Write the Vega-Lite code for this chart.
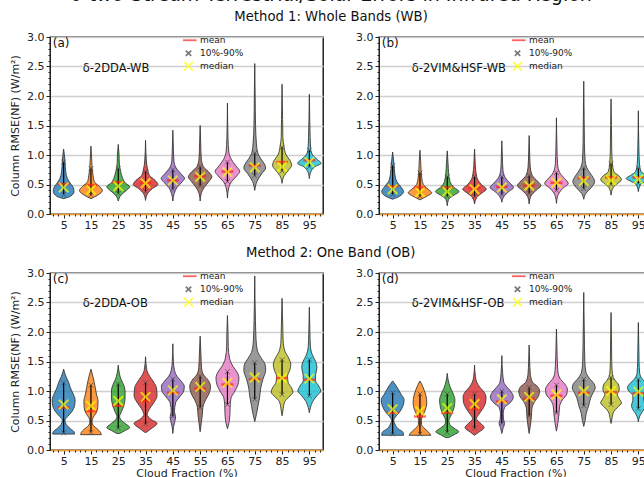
{
"$schema": "https://vega.github.io/schema/vega-lite/v6.json",
"padding": {"left": 8, "top": -14, "right": 0, "bottom": 0},
"title": {"text": "δ-two-Stream Terrestrial/Solar Errors in Infrared Region", "fontSize": 19, "fontWeight": "normal", "font": "DejaVu Sans", "anchor": "middle", "offset": 5, "color": "#111"},
"config": {
 "font": "DejaVu Sans",
 "view": {"stroke": "black", "strokeWidth": 1.3},
 "axis": {"labelFontSize": 11, "titleFontSize": 11, "labelColor": "#222", "titleColor": "#222", "titleFontWeight": "normal", "tickColor": "#222", "domainColor": "#222", "labelFont": "DejaVu Sans", "titleFont": "DejaVu Sans", "labelOverlap": false},
 "title": {"fontWeight": "normal", "font": "DejaVu Sans"},
 "legend": {"labelFont": "DejaVu Sans", "orient": "none", "legendX": 133, "legendY": -3, "title": null, "labelFontSize": 9, "labelColor": "#222", "symbolSize": 80, "symbolStrokeWidth": 1.8, "rowPadding": 0, "clipHeight": 12.5, "labelOffset": 6}
},
"datasets": {
"viol": [
{"p":"a","cf":5,"y":0.26,"w":0},{"p":"a","cf":5,"y":0.30,"w":2.5},{"p":"a","cf":5,"y":0.38,"w":3.8},{"p":"a","cf":5,"y":0.45,"w":3.5},{"p":"a","cf":5,"y":0.55,"w":2.0},{"p":"a","cf":5,"y":0.65,"w":1.0},{"p":"a","cf":5,"y":0.80,"w":0.6},{"p":"a","cf":5,"y":0.95,"w":0.4},{"p":"a","cf":5,"y":1.10,"w":0},
{"p":"a","cf":15,"y":0.26,"w":0},{"p":"a","cf":15,"y":0.32,"w":2.5},{"p":"a","cf":15,"y":0.40,"w":4.2},{"p":"a","cf":15,"y":0.47,"w":3.0},{"p":"a","cf":15,"y":0.55,"w":1.2},{"p":"a","cf":15,"y":0.65,"w":0.8},{"p":"a","cf":15,"y":0.75,"w":0.5},{"p":"a","cf":15,"y":0.90,"w":0.3},{"p":"a","cf":15,"y":1.15,"w":0},
{"p":"a","cf":25,"y":0.22,"w":0},{"p":"a","cf":25,"y":0.32,"w":1.0},{"p":"a","cf":25,"y":0.40,"w":3.0},{"p":"a","cf":25,"y":0.46,"w":4.2},{"p":"a","cf":25,"y":0.53,"w":2.5},{"p":"a","cf":25,"y":0.62,"w":1.5},{"p":"a","cf":25,"y":0.72,"w":0.9},{"p":"a","cf":25,"y":0.85,"w":0.4},{"p":"a","cf":25,"y":1.0,"w":0.3},{"p":"a","cf":25,"y":1.18,"w":0},
{"p":"a","cf":35,"y":0.23,"w":0},{"p":"a","cf":35,"y":0.35,"w":0.8},{"p":"a","cf":35,"y":0.43,"w":2.5},{"p":"a","cf":35,"y":0.50,"w":4.5},{"p":"a","cf":35,"y":0.57,"w":3.5},{"p":"a","cf":35,"y":0.65,"w":1.5},{"p":"a","cf":35,"y":0.75,"w":0.8},{"p":"a","cf":35,"y":0.90,"w":0.3},{"p":"a","cf":35,"y":1.25,"w":0},
{"p":"a","cf":45,"y":0.22,"w":0},{"p":"a","cf":45,"y":0.35,"w":0.5},{"p":"a","cf":45,"y":0.45,"w":1.5},{"p":"a","cf":45,"y":0.55,"w":3.5},{"p":"a","cf":45,"y":0.60,"w":4.3},{"p":"a","cf":45,"y":0.68,"w":3.0},{"p":"a","cf":45,"y":0.78,"w":1.2},{"p":"a","cf":45,"y":0.90,"w":0.4},{"p":"a","cf":45,"y":1.10,"w":0.2},{"p":"a","cf":45,"y":1.42,"w":0},
{"p":"a","cf":55,"y":0.22,"w":0},{"p":"a","cf":55,"y":0.35,"w":0.4},{"p":"a","cf":55,"y":0.45,"w":1.5},{"p":"a","cf":55,"y":0.55,"w":3.2},{"p":"a","cf":55,"y":0.63,"w":4.3},{"p":"a","cf":55,"y":0.72,"w":3.0},{"p":"a","cf":55,"y":0.80,"w":1.2},{"p":"a","cf":55,"y":0.95,"w":0.4},{"p":"a","cf":55,"y":1.20,"w":0.2},{"p":"a","cf":55,"y":1.50,"w":0},
{"p":"a","cf":65,"y":0.27,"w":0},{"p":"a","cf":65,"y":0.45,"w":0.5},{"p":"a","cf":65,"y":0.55,"w":1.5},{"p":"a","cf":65,"y":0.65,"w":3.5},{"p":"a","cf":65,"y":0.72,"w":4.5},{"p":"a","cf":65,"y":0.82,"w":3.0},{"p":"a","cf":65,"y":0.92,"w":1.5},{"p":"a","cf":65,"y":1.05,"w":0.5},{"p":"a","cf":65,"y":1.30,"w":0.2},{"p":"a","cf":65,"y":1.88,"w":0},
{"p":"a","cf":75,"y":0.40,"w":0},{"p":"a","cf":75,"y":0.55,"w":0.8},{"p":"a","cf":75,"y":0.68,"w":2.5},{"p":"a","cf":75,"y":0.78,"w":4.0},{"p":"a","cf":75,"y":0.85,"w":3.5},{"p":"a","cf":75,"y":0.95,"w":2.0},{"p":"a","cf":75,"y":1.05,"w":1.0},{"p":"a","cf":75,"y":1.20,"w":0.6},{"p":"a","cf":75,"y":1.50,"w":0.3},{"p":"a","cf":75,"y":2.0,"w":0.15},{"p":"a","cf":75,"y":2.55,"w":0},
{"p":"a","cf":85,"y":0.52,"w":0},{"p":"a","cf":85,"y":0.65,"w":0.8},{"p":"a","cf":85,"y":0.75,"w":2.5},{"p":"a","cf":85,"y":0.82,"w":3.5},{"p":"a","cf":85,"y":0.90,"w":3.0},{"p":"a","cf":85,"y":1.0,"w":1.5},{"p":"a","cf":85,"y":1.15,"w":0.7},{"p":"a","cf":85,"y":1.30,"w":0.3},{"p":"a","cf":85,"y":1.60,"w":0.2},{"p":"a","cf":85,"y":2.20,"w":0},
{"p":"a","cf":95,"y":0.60,"w":0},{"p":"a","cf":95,"y":0.72,"w":0.6},{"p":"a","cf":95,"y":0.80,"w":2.0},{"p":"a","cf":95,"y":0.86,"w":4.3},{"p":"a","cf":95,"y":0.92,"w":3.0},{"p":"a","cf":95,"y":1.0,"w":1.2},{"p":"a","cf":95,"y":1.10,"w":0.5},{"p":"a","cf":95,"y":1.30,"w":0.3},{"p":"a","cf":95,"y":1.60,"w":0.15},{"p":"a","cf":95,"y":2.03,"w":0},

{"p":"b","cf":5,"y":0.25,"w":0},{"p":"b","cf":5,"y":0.30,"w":2.5},{"p":"b","cf":5,"y":0.38,"w":4.0},{"p":"b","cf":5,"y":0.46,"w":3.0},{"p":"b","cf":5,"y":0.55,"w":1.5},{"p":"b","cf":5,"y":0.68,"w":0.8},{"p":"b","cf":5,"y":0.85,"w":0.5},{"p":"b","cf":5,"y":1.05,"w":0},
{"p":"b","cf":15,"y":0.24,"w":0},{"p":"b","cf":15,"y":0.30,"w":2.5},{"p":"b","cf":15,"y":0.36,"w":4.3},{"p":"b","cf":15,"y":0.42,"w":3.0},{"p":"b","cf":15,"y":0.50,"w":1.2},{"p":"b","cf":15,"y":0.60,"w":0.7},{"p":"b","cf":15,"y":0.75,"w":0.4},{"p":"b","cf":15,"y":0.90,"w":0.25},{"p":"b","cf":15,"y":1.08,"w":0},
{"p":"b","cf":25,"y":0.14,"w":0},{"p":"b","cf":25,"y":0.25,"w":0.5},{"p":"b","cf":25,"y":0.32,"w":2.5},{"p":"b","cf":25,"y":0.38,"w":4.3},{"p":"b","cf":25,"y":0.45,"w":2.5},{"p":"b","cf":25,"y":0.55,"w":1.0},{"p":"b","cf":25,"y":0.70,"w":0.5},{"p":"b","cf":25,"y":0.85,"w":0.3},{"p":"b","cf":25,"y":1.07,"w":0},
{"p":"b","cf":35,"y":0.17,"w":0},{"p":"b","cf":35,"y":0.28,"w":0.8},{"p":"b","cf":35,"y":0.36,"w":2.8},{"p":"b","cf":35,"y":0.42,"w":4.3},{"p":"b","cf":35,"y":0.50,"w":2.5},{"p":"b","cf":35,"y":0.60,"w":1.0},{"p":"b","cf":35,"y":0.75,"w":0.4},{"p":"b","cf":35,"y":0.90,"w":0.2},{"p":"b","cf":35,"y":1.10,"w":0},
{"p":"b","cf":45,"y":0.20,"w":0},{"p":"b","cf":45,"y":0.30,"w":0.8},{"p":"b","cf":45,"y":0.38,"w":2.5},{"p":"b","cf":45,"y":0.45,"w":4.3},{"p":"b","cf":45,"y":0.52,"w":3.0},{"p":"b","cf":45,"y":0.62,"w":1.2},{"p":"b","cf":45,"y":0.75,"w":0.4},{"p":"b","cf":45,"y":0.95,"w":0.2},{"p":"b","cf":45,"y":1.24,"w":0},
{"p":"b","cf":55,"y":0.17,"w":0},{"p":"b","cf":55,"y":0.30,"w":0.6},{"p":"b","cf":55,"y":0.40,"w":2.5},{"p":"b","cf":55,"y":0.48,"w":4.3},{"p":"b","cf":55,"y":0.56,"w":3.0},{"p":"b","cf":55,"y":0.65,"w":1.2},{"p":"b","cf":55,"y":0.80,"w":0.4},{"p":"b","cf":55,"y":1.0,"w":0.2},{"p":"b","cf":55,"y":1.33,"w":0},
{"p":"b","cf":65,"y":0.18,"w":0},{"p":"b","cf":65,"y":0.30,"w":0.4},{"p":"b","cf":65,"y":0.42,"w":2.0},{"p":"b","cf":65,"y":0.52,"w":4.3},{"p":"b","cf":65,"y":0.60,"w":3.0},{"p":"b","cf":65,"y":0.70,"w":1.2},{"p":"b","cf":65,"y":0.85,"w":0.4},{"p":"b","cf":65,"y":1.10,"w":0.2},{"p":"b","cf":65,"y":1.63,"w":0},
{"p":"b","cf":75,"y":0.25,"w":0},{"p":"b","cf":75,"y":0.35,"w":0.8},{"p":"b","cf":75,"y":0.45,"w":2.8},{"p":"b","cf":75,"y":0.55,"w":4.0},{"p":"b","cf":75,"y":0.65,"w":3.0},{"p":"b","cf":75,"y":0.75,"w":1.5},{"p":"b","cf":75,"y":0.90,"w":0.5},{"p":"b","cf":75,"y":1.20,"w":0.25},{"p":"b","cf":75,"y":1.60,"w":0.15},{"p":"b","cf":75,"y":2.25,"w":0},
{"p":"b","cf":85,"y":0.32,"w":0},{"p":"b","cf":85,"y":0.45,"w":0.8},{"p":"b","cf":85,"y":0.52,"w":2.5},{"p":"b","cf":85,"y":0.58,"w":3.8},{"p":"b","cf":85,"y":0.64,"w":3.0},{"p":"b","cf":85,"y":0.72,"w":1.0},{"p":"b","cf":85,"y":0.85,"w":0.5},{"p":"b","cf":85,"y":1.10,"w":0.25},{"p":"b","cf":85,"y":1.50,"w":0.15},{"p":"b","cf":85,"y":1.95,"w":0},
{"p":"b","cf":95,"y":0.38,"w":0},{"p":"b","cf":95,"y":0.50,"w":0.8},{"p":"b","cf":95,"y":0.56,"w":3.0},{"p":"b","cf":95,"y":0.60,"w":4.5},{"p":"b","cf":95,"y":0.65,"w":3.0},{"p":"b","cf":95,"y":0.72,"w":1.0},{"p":"b","cf":95,"y":0.85,"w":0.4},{"p":"b","cf":95,"y":1.10,"w":0.2},{"p":"b","cf":95,"y":1.75,"w":0},

{"p":"c","cf":5,"y":0.27,"w":4.0},{"p":"c","cf":5,"y":0.31,"w":3.8},{"p":"c","cf":5,"y":0.36,"w":2.5},{"p":"c","cf":5,"y":0.43,"w":1.0},{"p":"c","cf":5,"y":0.50,"w":0.5},{"p":"c","cf":5,"y":0.57,"w":1.5},{"p":"c","cf":5,"y":0.65,"w":3.0},{"p":"c","cf":5,"y":0.75,"w":4.0},{"p":"c","cf":5,"y":0.85,"w":4.2},{"p":"c","cf":5,"y":0.95,"w":3.5},{"p":"c","cf":5,"y":1.05,"w":2.5},{"p":"c","cf":5,"y":1.15,"w":1.8},{"p":"c","cf":5,"y":1.25,"w":0.8},{"p":"c","cf":5,"y":1.37,"w":0},
{"p":"c","cf":15,"y":0.26,"w":3.8},{"p":"c","cf":15,"y":0.30,"w":3.5},{"p":"c","cf":15,"y":0.35,"w":2.5},{"p":"c","cf":15,"y":0.42,"w":0.8},{"p":"c","cf":15,"y":0.48,"w":0.4},{"p":"c","cf":15,"y":0.55,"w":0.8},{"p":"c","cf":15,"y":0.62,"w":1.8},{"p":"c","cf":15,"y":0.72,"w":2.5},{"p":"c","cf":15,"y":0.82,"w":2.6},{"p":"c","cf":15,"y":0.95,"w":2.0},{"p":"c","cf":15,"y":1.05,"w":1.6},{"p":"c","cf":15,"y":1.15,"w":1.2},{"p":"c","cf":15,"y":1.25,"w":0.7},{"p":"c","cf":15,"y":1.37,"w":0},
{"p":"c","cf":25,"y":0.28,"w":0.5},{"p":"c","cf":25,"y":0.33,"w":2.5},{"p":"c","cf":25,"y":0.38,"w":4.2},{"p":"c","cf":25,"y":0.44,"w":2.8},{"p":"c","cf":25,"y":0.50,"w":1.2},{"p":"c","cf":25,"y":0.57,"w":0.5},{"p":"c","cf":25,"y":0.65,"w":1.2},{"p":"c","cf":25,"y":0.75,"w":2.0},{"p":"c","cf":25,"y":0.88,"w":2.5},{"p":"c","cf":25,"y":1.0,"w":2.5},{"p":"c","cf":25,"y":1.10,"w":2.0},{"p":"c","cf":25,"y":1.20,"w":1.0},{"p":"c","cf":25,"y":1.30,"w":0.4},{"p":"c","cf":25,"y":1.44,"w":0},
{"p":"c","cf":35,"y":0.30,"w":0.3},{"p":"c","cf":35,"y":0.36,"w":2.0},{"p":"c","cf":35,"y":0.45,"w":4.2},{"p":"c","cf":35,"y":0.52,"w":2.0},{"p":"c","cf":35,"y":0.60,"w":0.6},{"p":"c","cf":35,"y":0.70,"w":1.5},{"p":"c","cf":35,"y":0.80,"w":3.0},{"p":"c","cf":35,"y":0.92,"w":4.2},{"p":"c","cf":35,"y":1.05,"w":4.0},{"p":"c","cf":35,"y":1.15,"w":3.0},{"p":"c","cf":35,"y":1.25,"w":1.5},{"p":"c","cf":35,"y":1.35,"w":0.5},{"p":"c","cf":35,"y":1.58,"w":0},
{"p":"c","cf":45,"y":0.28,"w":0},{"p":"c","cf":45,"y":0.40,"w":0.3},{"p":"c","cf":45,"y":0.50,"w":0.8},{"p":"c","cf":45,"y":0.56,"w":1.0},{"p":"c","cf":45,"y":0.65,"w":0.6},{"p":"c","cf":45,"y":0.80,"w":1.0},{"p":"c","cf":45,"y":0.90,"w":2.5},{"p":"c","cf":45,"y":1.0,"w":4.0},{"p":"c","cf":45,"y":1.08,"w":4.2},{"p":"c","cf":45,"y":1.17,"w":3.0},{"p":"c","cf":45,"y":1.25,"w":1.5},{"p":"c","cf":45,"y":1.35,"w":0.6},{"p":"c","cf":45,"y":1.50,"w":0.2},{"p":"c","cf":45,"y":1.80,"w":0},
{"p":"c","cf":55,"y":0.31,"w":0},{"p":"c","cf":55,"y":0.45,"w":0.4},{"p":"c","cf":55,"y":0.60,"w":0.8},{"p":"c","cf":55,"y":0.72,"w":1.0},{"p":"c","cf":55,"y":0.85,"w":2.0},{"p":"c","cf":55,"y":0.95,"w":3.2},{"p":"c","cf":55,"y":1.08,"w":3.8},{"p":"c","cf":55,"y":1.18,"w":3.0},{"p":"c","cf":55,"y":1.28,"w":1.2},{"p":"c","cf":55,"y":1.40,"w":0.5},{"p":"c","cf":55,"y":1.60,"w":0.3},{"p":"c","cf":55,"y":1.93,"w":0},
{"p":"c","cf":65,"y":0.36,"w":0},{"p":"c","cf":65,"y":0.45,"w":0.5},{"p":"c","cf":65,"y":0.60,"w":0.9},{"p":"c","cf":65,"y":0.75,"w":1.0},{"p":"c","cf":65,"y":0.88,"w":1.3},{"p":"c","cf":65,"y":0.98,"w":2.5},{"p":"c","cf":65,"y":1.10,"w":3.8},{"p":"c","cf":65,"y":1.22,"w":4.2},{"p":"c","cf":65,"y":1.32,"w":3.5},{"p":"c","cf":65,"y":1.42,"w":2.0},{"p":"c","cf":65,"y":1.55,"w":0.8},{"p":"c","cf":65,"y":1.75,"w":0.3},{"p":"c","cf":65,"y":2.0,"w":0.2},{"p":"c","cf":65,"y":2.28,"w":0},
{"p":"c","cf":75,"y":0.48,"w":0},{"p":"c","cf":75,"y":0.60,"w":0.6},{"p":"c","cf":75,"y":0.75,"w":1.2},{"p":"c","cf":75,"y":0.90,"w":1.8},{"p":"c","cf":75,"y":1.05,"w":2.2},{"p":"c","cf":75,"y":1.20,"w":3.0},{"p":"c","cf":75,"y":1.35,"w":4.0},{"p":"c","cf":75,"y":1.45,"w":3.8},{"p":"c","cf":75,"y":1.55,"w":2.5},{"p":"c","cf":75,"y":1.68,"w":1.0},{"p":"c","cf":75,"y":1.85,"w":0.5},{"p":"c","cf":75,"y":2.20,"w":0.25},{"p":"c","cf":75,"y":2.95,"w":0},
{"p":"c","cf":85,"y":0.58,"w":0},{"p":"c","cf":85,"y":0.70,"w":0.4},{"p":"c","cf":85,"y":0.82,"w":1.0},{"p":"c","cf":85,"y":0.90,"w":2.5},{"p":"c","cf":85,"y":0.98,"w":4.0},{"p":"c","cf":85,"y":1.05,"w":3.5},{"p":"c","cf":85,"y":1.15,"w":2.2},{"p":"c","cf":85,"y":1.25,"w":2.0},{"p":"c","cf":85,"y":1.35,"w":2.8},{"p":"c","cf":85,"y":1.45,"w":3.2},{"p":"c","cf":85,"y":1.55,"w":2.5},{"p":"c","cf":85,"y":1.68,"w":1.0},{"p":"c","cf":85,"y":1.85,"w":0.4},{"p":"c","cf":85,"y":2.10,"w":0.25},{"p":"c","cf":85,"y":2.57,"w":0},
{"p":"c","cf":95,"y":0.63,"w":0},{"p":"c","cf":95,"y":0.72,"w":0.4},{"p":"c","cf":95,"y":0.82,"w":1.2},{"p":"c","cf":95,"y":0.92,"w":2.8},{"p":"c","cf":95,"y":1.0,"w":4.2},{"p":"c","cf":95,"y":1.08,"w":3.5},{"p":"c","cf":95,"y":1.18,"w":2.2},{"p":"c","cf":95,"y":1.28,"w":2.3},{"p":"c","cf":95,"y":1.40,"w":2.8},{"p":"c","cf":95,"y":1.50,"w":2.3},{"p":"c","cf":95,"y":1.60,"w":1.2},{"p":"c","cf":95,"y":1.75,"w":0.4},{"p":"c","cf":95,"y":2.0,"w":0.2},{"p":"c","cf":95,"y":2.42,"w":0},

{"p":"d","cf":5,"y":0.25,"w":4.0},{"p":"d","cf":5,"y":0.30,"w":3.8},{"p":"d","cf":5,"y":0.36,"w":2.0},{"p":"d","cf":5,"y":0.44,"w":0.8},{"p":"d","cf":5,"y":0.50,"w":0.4},{"p":"d","cf":5,"y":0.56,"w":1.0},{"p":"d","cf":5,"y":0.64,"w":2.5},{"p":"d","cf":5,"y":0.75,"w":3.8},{"p":"d","cf":5,"y":0.85,"w":4.2},{"p":"d","cf":5,"y":0.95,"w":3.0},{"p":"d","cf":5,"y":1.05,"w":1.8},{"p":"d","cf":5,"y":1.12,"w":0.8},{"p":"d","cf":5,"y":1.17,"w":0},
{"p":"d","cf":15,"y":0.25,"w":4.0},{"p":"d","cf":15,"y":0.30,"w":3.2},{"p":"d","cf":15,"y":0.36,"w":1.8},{"p":"d","cf":15,"y":0.43,"w":0.6},{"p":"d","cf":15,"y":0.50,"w":0.5},{"p":"d","cf":15,"y":0.58,"w":1.0},{"p":"d","cf":15,"y":0.68,"w":2.0},{"p":"d","cf":15,"y":0.80,"w":2.5},{"p":"d","cf":15,"y":0.92,"w":2.2},{"p":"d","cf":15,"y":1.02,"w":1.5},{"p":"d","cf":15,"y":1.10,"w":0.8},{"p":"d","cf":15,"y":1.17,"w":0},
{"p":"d","cf":25,"y":0.21,"w":0.5},{"p":"d","cf":25,"y":0.26,"w":2.5},{"p":"d","cf":25,"y":0.31,"w":4.2},{"p":"d","cf":25,"y":0.37,"w":2.5},{"p":"d","cf":25,"y":0.44,"w":0.8},{"p":"d","cf":25,"y":0.50,"w":0.6},{"p":"d","cf":25,"y":0.60,"w":1.5},{"p":"d","cf":25,"y":0.72,"w":2.5},{"p":"d","cf":25,"y":0.85,"w":2.8},{"p":"d","cf":25,"y":0.95,"w":2.2},{"p":"d","cf":25,"y":1.05,"w":1.2},{"p":"d","cf":25,"y":1.15,"w":0.5},{"p":"d","cf":25,"y":1.30,"w":0},
{"p":"d","cf":35,"y":0.25,"w":0},{"p":"d","cf":35,"y":0.30,"w":1.5},{"p":"d","cf":35,"y":0.38,"w":3.5},{"p":"d","cf":35,"y":0.46,"w":2.0},{"p":"d","cf":35,"y":0.53,"w":0.7},{"p":"d","cf":35,"y":0.60,"w":1.5},{"p":"d","cf":35,"y":0.70,"w":3.0},{"p":"d","cf":35,"y":0.80,"w":4.0},{"p":"d","cf":35,"y":0.90,"w":4.2},{"p":"d","cf":35,"y":0.98,"w":3.5},{"p":"d","cf":35,"y":1.06,"w":2.0},{"p":"d","cf":35,"y":1.15,"w":0.8},{"p":"d","cf":35,"y":1.25,"w":0.3},{"p":"d","cf":35,"y":1.44,"w":0},
{"p":"d","cf":45,"y":0.28,"w":0},{"p":"d","cf":45,"y":0.38,"w":0.5},{"p":"d","cf":45,"y":0.45,"w":1.0},{"p":"d","cf":45,"y":0.52,"w":0.6},{"p":"d","cf":45,"y":0.62,"w":0.5},{"p":"d","cf":45,"y":0.72,"w":1.0},{"p":"d","cf":45,"y":0.80,"w":3.0},{"p":"d","cf":45,"y":0.90,"w":4.2},{"p":"d","cf":45,"y":0.98,"w":3.5},{"p":"d","cf":45,"y":1.06,"w":2.0},{"p":"d","cf":45,"y":1.15,"w":0.7},{"p":"d","cf":45,"y":1.30,"w":0.3},{"p":"d","cf":45,"y":1.60,"w":0},
{"p":"d","cf":55,"y":0.28,"w":0},{"p":"d","cf":55,"y":0.40,"w":0.4},{"p":"d","cf":55,"y":0.55,"w":0.8},{"p":"d","cf":55,"y":0.70,"w":1.0},{"p":"d","cf":55,"y":0.82,"w":2.0},{"p":"d","cf":55,"y":0.92,"w":3.5},{"p":"d","cf":55,"y":1.0,"w":3.8},{"p":"d","cf":55,"y":1.08,"w":3.0},{"p":"d","cf":55,"y":1.15,"w":1.2},{"p":"d","cf":55,"y":1.30,"w":0.4},{"p":"d","cf":55,"y":1.50,"w":0.2},{"p":"d","cf":55,"y":1.78,"w":0},
{"p":"d","cf":65,"y":0.32,"w":0},{"p":"d","cf":65,"y":0.45,"w":0.5},{"p":"d","cf":65,"y":0.60,"w":0.9},{"p":"d","cf":65,"y":0.75,"w":1.2},{"p":"d","cf":65,"y":0.85,"w":2.2},{"p":"d","cf":65,"y":0.95,"w":3.8},{"p":"d","cf":65,"y":1.03,"w":4.0},{"p":"d","cf":65,"y":1.12,"w":3.0},{"p":"d","cf":65,"y":1.22,"w":1.2},{"p":"d","cf":65,"y":1.35,"w":0.5},{"p":"d","cf":65,"y":1.60,"w":0.25},{"p":"d","cf":65,"y":2.05,"w":0},
{"p":"d","cf":75,"y":0.40,"w":0},{"p":"d","cf":75,"y":0.50,"w":0.5},{"p":"d","cf":75,"y":0.62,"w":0.9},{"p":"d","cf":75,"y":0.75,"w":1.8},{"p":"d","cf":75,"y":0.88,"w":2.5},{"p":"d","cf":75,"y":0.98,"w":3.5},{"p":"d","cf":75,"y":1.05,"w":4.2},{"p":"d","cf":75,"y":1.12,"w":3.8},{"p":"d","cf":75,"y":1.22,"w":2.0},{"p":"d","cf":75,"y":1.32,"w":0.8},{"p":"d","cf":75,"y":1.50,"w":0.4},{"p":"d","cf":75,"y":2.0,"w":0.2},{"p":"d","cf":75,"y":2.67,"w":0},
{"p":"d","cf":85,"y":0.45,"w":0},{"p":"d","cf":85,"y":0.55,"w":0.4},{"p":"d","cf":85,"y":0.65,"w":1.0},{"p":"d","cf":85,"y":0.73,"w":2.5},{"p":"d","cf":85,"y":0.80,"w":3.8},{"p":"d","cf":85,"y":0.87,"w":3.0},{"p":"d","cf":85,"y":0.94,"w":2.3},{"p":"d","cf":85,"y":1.02,"w":3.0},{"p":"d","cf":85,"y":1.10,"w":2.8},{"p":"d","cf":85,"y":1.18,"w":1.5},{"p":"d","cf":85,"y":1.28,"w":0.5},{"p":"d","cf":85,"y":1.50,"w":0.25},{"p":"d","cf":85,"y":1.90,"w":0.15},{"p":"d","cf":85,"y":2.33,"w":0},
{"p":"d","cf":95,"y":0.48,"w":0},{"p":"d","cf":95,"y":0.56,"w":0.4},{"p":"d","cf":95,"y":0.63,"w":1.2},{"p":"d","cf":95,"y":0.70,"w":2.2},{"p":"d","cf":95,"y":0.76,"w":2.5},{"p":"d","cf":95,"y":0.84,"w":2.0},{"p":"d","cf":95,"y":0.92,"w":2.0},{"p":"d","cf":95,"y":1.0,"w":3.5},{"p":"d","cf":95,"y":1.06,"w":4.0},{"p":"d","cf":95,"y":1.13,"w":3.0},{"p":"d","cf":95,"y":1.20,"w":1.5},{"p":"d","cf":95,"y":1.30,"w":0.5},{"p":"d","cf":95,"y":1.50,"w":0.25},{"p":"d","cf":95,"y":1.80,"w":0.15},{"p":"d","cf":95,"y":2.16,"w":0}
],
"stats": [
{"p":"a","cf":5,"s":"mean","v":0.51},{"p":"a","cf":5,"s":"median","v":0.45},{"p":"a","cf":5,"s":"10%-90%","v":0.33},{"p":"a","cf":5,"s":"10%-90%","v":0.88},
{"p":"a","cf":15,"s":"mean","v":0.49},{"p":"a","cf":15,"s":"median","v":0.41},{"p":"a","cf":15,"s":"10%-90%","v":0.32},{"p":"a","cf":15,"s":"10%-90%","v":0.77},
{"p":"a","cf":25,"s":"mean","v":0.54},{"p":"a","cf":25,"s":"median","v":0.47},{"p":"a","cf":25,"s":"10%-90%","v":0.35},{"p":"a","cf":25,"s":"10%-90%","v":0.77},
{"p":"a","cf":35,"s":"mean","v":0.53},{"p":"a","cf":35,"s":"median","v":0.52},{"p":"a","cf":35,"s":"10%-90%","v":0.38},{"p":"a","cf":35,"s":"10%-90%","v":0.72},
{"p":"a","cf":45,"s":"mean","v":0.57},{"p":"a","cf":45,"s":"median","v":0.57},{"p":"a","cf":45,"s":"10%-90%","v":0.42},{"p":"a","cf":45,"s":"10%-90%","v":0.75},
{"p":"a","cf":55,"s":"mean","v":0.64},{"p":"a","cf":55,"s":"median","v":0.63},{"p":"a","cf":55,"s":"10%-90%","v":0.48},{"p":"a","cf":55,"s":"10%-90%","v":0.80},
{"p":"a","cf":65,"s":"mean","v":0.72},{"p":"a","cf":65,"s":"median","v":0.71},{"p":"a","cf":65,"s":"10%-90%","v":0.55},{"p":"a","cf":65,"s":"10%-90%","v":0.88},
{"p":"a","cf":75,"s":"mean","v":0.82},{"p":"a","cf":75,"s":"median","v":0.79},{"p":"a","cf":75,"s":"10%-90%","v":0.65},{"p":"a","cf":75,"s":"10%-90%","v":1.03},
{"p":"a","cf":85,"s":"mean","v":0.88},{"p":"a","cf":85,"s":"median","v":0.80},{"p":"a","cf":85,"s":"10%-90%","v":0.73},{"p":"a","cf":85,"s":"10%-90%","v":1.13},
{"p":"a","cf":95,"s":"mean","v":0.91},{"p":"a","cf":95,"s":"median","v":0.88},{"p":"a","cf":95,"s":"10%-90%","v":0.80},{"p":"a","cf":95,"s":"10%-90%","v":1.08},
{"p":"b","cf":5,"s":"mean","v":0.47},{"p":"b","cf":5,"s":"median","v":0.42},{"p":"b","cf":5,"s":"10%-90%","v":0.33},{"p":"b","cf":5,"s":"10%-90%","v":0.82},
{"p":"b","cf":15,"s":"mean","v":0.45},{"p":"b","cf":15,"s":"median","v":0.37},{"p":"b","cf":15,"s":"10%-90%","v":0.30},{"p":"b","cf":15,"s":"10%-90%","v":0.70},
{"p":"b","cf":25,"s":"mean","v":0.45},{"p":"b","cf":25,"s":"median","v":0.38},{"p":"b","cf":25,"s":"10%-90%","v":0.30},{"p":"b","cf":25,"s":"10%-90%","v":0.63},
{"p":"b","cf":35,"s":"mean","v":0.44},{"p":"b","cf":35,"s":"median","v":0.42},{"p":"b","cf":35,"s":"10%-90%","v":0.30},{"p":"b","cf":35,"s":"10%-90%","v":0.63},
{"p":"b","cf":45,"s":"mean","v":0.46},{"p":"b","cf":45,"s":"median","v":0.45},{"p":"b","cf":45,"s":"10%-90%","v":0.33},{"p":"b","cf":45,"s":"10%-90%","v":0.63},
{"p":"b","cf":55,"s":"mean","v":0.48},{"p":"b","cf":55,"s":"median","v":0.48},{"p":"b","cf":55,"s":"10%-90%","v":0.35},{"p":"b","cf":55,"s":"10%-90%","v":0.65},
{"p":"b","cf":65,"s":"mean","v":0.53},{"p":"b","cf":65,"s":"median","v":0.53},{"p":"b","cf":65,"s":"10%-90%","v":0.40},{"p":"b","cf":65,"s":"10%-90%","v":0.70},
{"p":"b","cf":75,"s":"mean","v":0.61},{"p":"b","cf":75,"s":"median","v":0.56},{"p":"b","cf":75,"s":"10%-90%","v":0.43},{"p":"b","cf":75,"s":"10%-90%","v":0.78},
{"p":"b","cf":85,"s":"mean","v":0.62},{"p":"b","cf":85,"s":"median","v":0.57},{"p":"b","cf":85,"s":"10%-90%","v":0.50},{"p":"b","cf":85,"s":"10%-90%","v":0.85},
{"p":"b","cf":95,"s":"mean","v":0.62},{"p":"b","cf":95,"s":"median","v":0.59},{"p":"b","cf":95,"s":"10%-90%","v":0.52},{"p":"b","cf":95,"s":"10%-90%","v":0.78},
{"p":"c","cf":5,"s":"mean","v":0.72},{"p":"c","cf":5,"s":"median","v":0.77},{"p":"c","cf":5,"s":"10%-90%","v":0.29},{"p":"c","cf":5,"s":"10%-90%","v":1.14},
{"p":"c","cf":15,"s":"mean","v":0.66},{"p":"c","cf":15,"s":"median","v":0.75},{"p":"c","cf":15,"s":"10%-90%","v":0.30},{"p":"c","cf":15,"s":"10%-90%","v":1.10},
{"p":"c","cf":25,"s":"mean","v":0.75},{"p":"c","cf":25,"s":"median","v":0.83},{"p":"c","cf":25,"s":"10%-90%","v":0.37},{"p":"c","cf":25,"s":"10%-90%","v":1.12},
{"p":"c","cf":35,"s":"mean","v":0.83},{"p":"c","cf":35,"s":"median","v":0.90},{"p":"c","cf":35,"s":"10%-90%","v":0.44},{"p":"c","cf":35,"s":"10%-90%","v":1.14},
{"p":"c","cf":45,"s":"mean","v":0.97},{"p":"c","cf":45,"s":"median","v":1.01},{"p":"c","cf":45,"s":"10%-90%","v":0.57},{"p":"c","cf":45,"s":"10%-90%","v":1.20},
{"p":"c","cf":55,"s":"mean","v":1.04},{"p":"c","cf":55,"s":"median","v":1.07},{"p":"c","cf":55,"s":"10%-90%","v":0.72},{"p":"c","cf":55,"s":"10%-90%","v":1.25},
{"p":"c","cf":65,"s":"mean","v":1.11},{"p":"c","cf":65,"s":"median","v":1.14},{"p":"c","cf":65,"s":"10%-90%","v":0.77},{"p":"c","cf":65,"s":"10%-90%","v":1.33},
{"p":"c","cf":75,"s":"mean","v":1.20},{"p":"c","cf":75,"s":"median","v":1.23},{"p":"c","cf":75,"s":"10%-90%","v":0.86},{"p":"c","cf":75,"s":"10%-90%","v":1.48},
{"p":"c","cf":85,"s":"mean","v":1.22},{"p":"c","cf":85,"s":"median","v":1.22},{"p":"c","cf":85,"s":"10%-90%","v":0.94},{"p":"c","cf":85,"s":"10%-90%","v":1.53},
{"p":"c","cf":95,"s":"mean","v":1.19},{"p":"c","cf":95,"s":"median","v":1.21},{"p":"c","cf":95,"s":"10%-90%","v":0.92},{"p":"c","cf":95,"s":"10%-90%","v":1.53},
{"p":"d","cf":5,"s":"mean","v":0.63},{"p":"d","cf":5,"s":"median","v":0.69},{"p":"d","cf":5,"s":"10%-90%","v":0.27},{"p":"d","cf":5,"s":"10%-90%","v":0.97},
{"p":"d","cf":15,"s":"mean","v":0.57},{"p":"d","cf":15,"s":"median","v":0.66},{"p":"d","cf":15,"s":"10%-90%","v":0.27},{"p":"d","cf":15,"s":"10%-90%","v":0.95},
{"p":"d","cf":25,"s":"mean","v":0.63},{"p":"d","cf":25,"s":"median","v":0.71},{"p":"d","cf":25,"s":"10%-90%","v":0.30},{"p":"d","cf":25,"s":"10%-90%","v":0.95},
{"p":"d","cf":35,"s":"mean","v":0.70},{"p":"d","cf":35,"s":"median","v":0.78},{"p":"d","cf":35,"s":"10%-90%","v":0.37},{"p":"d","cf":35,"s":"10%-90%","v":0.95},
{"p":"d","cf":45,"s":"mean","v":0.82},{"p":"d","cf":45,"s":"median","v":0.86},{"p":"d","cf":45,"s":"10%-90%","v":0.45},{"p":"d","cf":45,"s":"10%-90%","v":1.00},
{"p":"d","cf":55,"s":"mean","v":0.87},{"p":"d","cf":55,"s":"median","v":0.90},{"p":"d","cf":55,"s":"10%-90%","v":0.58},{"p":"d","cf":55,"s":"10%-90%","v":1.06},
{"p":"d","cf":65,"s":"mean","v":0.92},{"p":"d","cf":65,"s":"median","v":0.94},{"p":"d","cf":65,"s":"10%-90%","v":0.63},{"p":"d","cf":65,"s":"10%-90%","v":1.10},
{"p":"d","cf":75,"s":"mean","v":0.97},{"p":"d","cf":75,"s":"median","v":1.00},{"p":"d","cf":75,"s":"10%-90%","v":0.75},{"p":"d","cf":75,"s":"10%-90%","v":1.20},
{"p":"d","cf":85,"s":"mean","v":0.98},{"p":"d","cf":85,"s":"median","v":1.00},{"p":"d","cf":85,"s":"10%-90%","v":0.77},{"p":"d","cf":85,"s":"10%-90%","v":1.23},
{"p":"d","cf":95,"s":"mean","v":0.96},{"p":"d","cf":95,"s":"median","v":0.99},{"p":"d","cf":95,"s":"10%-90%","v":0.70},{"p":"d","cf":95,"s":"10%-90%","v":1.20}
]
},
"vconcat": [
{
 "title": {"text": "Method 1: Whole Bands (WB)", "fontSize": 13.2, "offset": 6, "anchor": "middle", "color": "#111"},
 "spacing": 30,
 "hconcat": [
  {"width": 273, "height": 177, "resolve": {"axis": {"x": "independent", "y": "independent"}}, "layer": [
   {"data": {"name": "viol"}, "transform": [{"filter": "datum.p == 'a'"}, {"calculate": "datum.cf - datum.w", "as": "lo"}, {"calculate": "datum.cf + datum.w", "as": "hi"}],
    "mark": {"type": "area", "orient": "horizontal", "interpolate": "monotone", "fillOpacity": 0.8, "stroke": "#333", "strokeWidth": 1, "strokeOpacity": 0.85},
    "encoding": {
     "y": {"field": "y", "type": "quantitative", "scale": {"domain": [0, 3]}, "axis": {"orient": "left", "values": [0, 0.5, 1, 1.5, 2, 2.5, 3], "format": ".1f", "gridColor": "#cfcfcf", "gridWidth": 1.5, "tickSize": 4, "title": "Column RMSE(NF) (W/m²)", "titlePadding": 6}},
     "x": {"field": "lo", "type": "quantitative", "scale": {"domain": [0, 100]}, "axis": {"orient": "bottom", "values": [5, 15, 25, 35, 45, 55, 65, 75, 85, 95], "labelOverlap": false, "grid": false, "tickSize": 4, "labelPadding": 1, "domainColor": "#f0a030", "domainWidth": 1.5, "title": null}},
     "x2": {"field": "hi"},
     "fill": {"field": "cf", "type": "nominal", "scale": {"domain": [5, 15, 25, 35, 45, 55, 65, 75, 85, 95], "range": ["#1f77b4", "#ff7f0e", "#2ca02c", "#d62728", "#9467bd", "#8c564b", "#e377c2", "#7f7f7f", "#bcbd22", "#17becf"]}, "legend": null}
    }},
   {"data": {"name": "stats"}, "transform": [{"filter": "datum.p == 'a'"}],
    "mark": {"type": "point", "opacity": 0},
    "encoding": {
     "x": {"field": "cf", "type": "quantitative", "axis": {"orient": "bottom", "values": [1, 3, 7, 9, 11, 13, 17, 19, 21, 23, 27, 29, 31, 33, 37, 39, 41, 43, 47, 49, 51, 53, 57, 59, 61, 63, 67, 69, 71, 73, 77, 79, 81, 83, 87, 89, 91, 93, 97, 99], "labels": false, "domain": false, "grid": false, "tickSize": 2, "title": null}},
     "y": {"field": "v", "type": "quantitative", "axis": {"orient": "left", "values": [0.1, 0.2, 0.3, 0.4, 0.6, 0.7, 0.8, 0.9, 1.1, 1.2, 1.3, 1.4, 1.6, 1.7, 1.8, 1.9, 2.1, 2.2, 2.3, 2.4, 2.6, 2.7, 2.8, 2.9], "labels": false, "domain": false, "grid": false, "tickSize": 2, "title": null}}}},
   {"data": {"name": "stats"}, "transform": [{"filter": "datum.p == 'a' && datum.s == '10%-90%'"}],
    "mark": {"type": "line", "color": "black", "strokeWidth": 1.2},
    "encoding": {"x": {"field": "cf", "type": "quantitative", "axis": null}, "y": {"field": "v", "type": "quantitative", "axis": null}, "detail": {"field": "cf"}}},
   {"data": {"name": "stats"}, "transform": [{"filter": "datum.p == 'a' && datum.s == 'mean'"}],
    "mark": {"type": "tick", "orient": "horizontal", "size": 12, "thickness": 2.5},
    "encoding": {"x": {"field": "cf", "type": "quantitative", "axis": null}, "y": {"field": "v", "type": "quantitative", "axis": null},
     "color": {"field": "s", "type": "nominal", "scale": {"domain": ["mean", "10%-90%", "median"], "range": ["#ff2020", "#444444", "#ffff00"]}}}},
   {"data": {"name": "stats"}, "transform": [{"filter": "datum.p == 'a' && datum.s == '10%-90%'"}],
    "mark": {"type": "point", "filled": false, "size": 60, "strokeWidth": 1},
    "encoding": {"x": {"field": "cf", "type": "quantitative", "axis": null}, "y": {"field": "v", "type": "quantitative", "axis": null},
     "color": {"field": "s", "type": "nominal"},
     "shape": {"field": "s", "type": "nominal", "scale": {"domain": ["mean", "10%-90%", "median"], "range": ["M-1.8,0H1.8", "M-0.6,-0.6L0.6,0.6M0.6,-0.6L-0.6,0.6", "M-1,-1L1,1M1,-1L-1,1"]}}}},
   {"data": {"name": "stats"}, "transform": [{"filter": "datum.p == 'a' && datum.s == 'median'"}],
    "mark": {"type": "point", "filled": false, "size": 90, "strokeWidth": 2},
    "encoding": {"x": {"field": "cf", "type": "quantitative", "axis": null}, "y": {"field": "v", "type": "quantitative", "axis": null},
     "color": {"field": "s", "type": "nominal"},
     "shape": {"field": "s", "type": "nominal"}}},
   {"data": {"values": [{}]}, "mark": {"type": "text", "align": "left", "baseline": "top", "fontSize": 12, "color": "#111"},
    "encoding": {"x": {"datum": 1, "axis": null}, "y": {"datum": 2.98, "axis": null}, "text": {"value": "(a)"}}},
   {"data": {"values": [{}]}, "mark": {"type": "text", "align": "left", "baseline": "middle", "fontSize": 11.5, "color": "#111"},
    "encoding": {"x": {"datum": 12, "axis": null}, "y": {"datum": 2.46, "axis": null}, "text": {"value": "δ-2DDA-WB"}}}
  ]},
  {"width": 273, "height": 177, "resolve": {"axis": {"x": "independent", "y": "independent"}}, "layer": [
   {"data": {"name": "viol"}, "transform": [{"filter": "datum.p == 'b'"}, {"calculate": "datum.cf - datum.w", "as": "lo"}, {"calculate": "datum.cf + datum.w", "as": "hi"}],
    "mark": {"type": "area", "orient": "horizontal", "interpolate": "monotone", "fillOpacity": 0.8, "stroke": "#333", "strokeWidth": 1, "strokeOpacity": 0.85},
    "encoding": {
     "y": {"field": "y", "type": "quantitative", "scale": {"domain": [0, 3]}, "axis": {"orient": "left", "values": [0, 0.5, 1, 1.5, 2, 2.5, 3], "format": ".1f", "gridColor": "#cfcfcf", "gridWidth": 1.5, "tickSize": 4, "title": null}},
     "x": {"field": "lo", "type": "quantitative", "scale": {"domain": [0, 100]}, "axis": {"orient": "bottom", "values": [5, 15, 25, 35, 45, 55, 65, 75, 85, 95], "labelOverlap": false, "grid": false, "tickSize": 4, "labelPadding": 1, "domainColor": "#f0a030", "domainWidth": 1.5, "title": null}},
     "x2": {"field": "hi"},
     "fill": {"field": "cf", "type": "nominal", "scale": {"domain": [5, 15, 25, 35, 45, 55, 65, 75, 85, 95], "range": ["#1f77b4", "#ff7f0e", "#2ca02c", "#d62728", "#9467bd", "#8c564b", "#e377c2", "#7f7f7f", "#bcbd22", "#17becf"]}, "legend": null}
    }},
   {"data": {"name": "stats"}, "transform": [{"filter": "datum.p == 'b'"}],
    "mark": {"type": "point", "opacity": 0},
    "encoding": {
     "x": {"field": "cf", "type": "quantitative", "axis": {"orient": "bottom", "values": [1, 3, 7, 9, 11, 13, 17, 19, 21, 23, 27, 29, 31, 33, 37, 39, 41, 43, 47, 49, 51, 53, 57, 59, 61, 63, 67, 69, 71, 73, 77, 79, 81, 83, 87, 89, 91, 93, 97, 99], "labels": false, "domain": false, "grid": false, "tickSize": 2, "title": null}},
     "y": {"field": "v", "type": "quantitative", "axis": {"orient": "left", "values": [0.1, 0.2, 0.3, 0.4, 0.6, 0.7, 0.8, 0.9, 1.1, 1.2, 1.3, 1.4, 1.6, 1.7, 1.8, 1.9, 2.1, 2.2, 2.3, 2.4, 2.6, 2.7, 2.8, 2.9], "labels": false, "domain": false, "grid": false, "tickSize": 2, "title": null}}}},
   {"data": {"name": "stats"}, "transform": [{"filter": "datum.p == 'b' && datum.s == '10%-90%'"}],
    "mark": {"type": "line", "color": "black", "strokeWidth": 1.2},
    "encoding": {"x": {"field": "cf", "type": "quantitative", "axis": null}, "y": {"field": "v", "type": "quantitative", "axis": null}, "detail": {"field": "cf"}}},
   {"data": {"name": "stats"}, "transform": [{"filter": "datum.p == 'b' && datum.s == 'mean'"}],
    "mark": {"type": "tick", "orient": "horizontal", "size": 12, "thickness": 2.5},
    "encoding": {"x": {"field": "cf", "type": "quantitative", "axis": null}, "y": {"field": "v", "type": "quantitative", "axis": null},
     "color": {"field": "s", "type": "nominal", "scale": {"domain": ["mean", "10%-90%", "median"], "range": ["#ff2020", "#444444", "#ffff00"]}}}},
   {"data": {"name": "stats"}, "transform": [{"filter": "datum.p == 'b' && datum.s == '10%-90%'"}],
    "mark": {"type": "point", "filled": false, "size": 60, "strokeWidth": 1},
    "encoding": {"x": {"field": "cf", "type": "quantitative", "axis": null}, "y": {"field": "v", "type": "quantitative", "axis": null},
     "color": {"field": "s", "type": "nominal"},
     "shape": {"field": "s", "type": "nominal", "scale": {"domain": ["mean", "10%-90%", "median"], "range": ["M-1.8,0H1.8", "M-0.6,-0.6L0.6,0.6M0.6,-0.6L-0.6,0.6", "M-1,-1L1,1M1,-1L-1,1"]}}}},
   {"data": {"name": "stats"}, "transform": [{"filter": "datum.p == 'b' && datum.s == 'median'"}],
    "mark": {"type": "point", "filled": false, "size": 90, "strokeWidth": 2},
    "encoding": {"x": {"field": "cf", "type": "quantitative", "axis": null}, "y": {"field": "v", "type": "quantitative", "axis": null},
     "color": {"field": "s", "type": "nominal"},
     "shape": {"field": "s", "type": "nominal"}}},
   {"data": {"values": [{}]}, "mark": {"type": "text", "align": "left", "baseline": "top", "fontSize": 12, "color": "#111"},
    "encoding": {"x": {"datum": 1, "axis": null}, "y": {"datum": 2.98, "axis": null}, "text": {"value": "(b)"}}},
   {"data": {"values": [{}]}, "mark": {"type": "text", "align": "left", "baseline": "middle", "fontSize": 11.5, "color": "#111"},
    "encoding": {"x": {"datum": 12, "axis": null}, "y": {"datum": 2.46, "axis": null}, "text": {"value": "δ-2VIM&HSF-WB"}}}
  ]}
 ],
 "resolve": {"scale": {"color": "independent", "shape": "independent"}, "legend": {"color": "independent", "shape": "independent"}}
},
{
 "title": {"text": "Method 2: One Band (OB)", "fontSize": 13.2, "offset": 6, "anchor": "middle", "color": "#111"},
 "spacing": 30,
 "hconcat": [
  {"width": 273, "height": 177, "resolve": {"axis": {"x": "independent", "y": "independent"}}, "layer": [
   {"data": {"name": "viol"}, "transform": [{"filter": "datum.p == 'c'"}, {"calculate": "datum.cf - datum.w", "as": "lo"}, {"calculate": "datum.cf + datum.w", "as": "hi"}],
    "mark": {"type": "area", "orient": "horizontal", "interpolate": "monotone", "fillOpacity": 0.8, "stroke": "#333", "strokeWidth": 1, "strokeOpacity": 0.85},
    "encoding": {
     "y": {"field": "y", "type": "quantitative", "scale": {"domain": [0, 3]}, "axis": {"orient": "left", "values": [0, 0.5, 1, 1.5, 2, 2.5, 3], "format": ".1f", "gridColor": "#cfcfcf", "gridWidth": 1.5, "tickSize": 4, "title": "Column RMSE(NF) (W/m²)", "titlePadding": 6}},
     "x": {"field": "lo", "type": "quantitative", "scale": {"domain": [0, 100]}, "axis": {"orient": "bottom", "values": [5, 15, 25, 35, 45, 55, 65, 75, 85, 95], "labelOverlap": false, "grid": false, "tickSize": 4, "labelPadding": 1, "domainColor": "#f0a030", "domainWidth": 1.5, "title": "Cloud Fraction (%)", "titlePadding": 1}},
     "x2": {"field": "hi"},
     "fill": {"field": "cf", "type": "nominal", "scale": {"domain": [5, 15, 25, 35, 45, 55, 65, 75, 85, 95], "range": ["#1f77b4", "#ff7f0e", "#2ca02c", "#d62728", "#9467bd", "#8c564b", "#e377c2", "#7f7f7f", "#bcbd22", "#17becf"]}, "legend": null}
    }},
   {"data": {"name": "stats"}, "transform": [{"filter": "datum.p == 'c'"}],
    "mark": {"type": "point", "opacity": 0},
    "encoding": {
     "x": {"field": "cf", "type": "quantitative", "axis": {"orient": "bottom", "values": [1, 3, 7, 9, 11, 13, 17, 19, 21, 23, 27, 29, 31, 33, 37, 39, 41, 43, 47, 49, 51, 53, 57, 59, 61, 63, 67, 69, 71, 73, 77, 79, 81, 83, 87, 89, 91, 93, 97, 99], "labels": false, "domain": false, "grid": false, "tickSize": 2, "title": null}},
     "y": {"field": "v", "type": "quantitative", "axis": {"orient": "left", "values": [0.1, 0.2, 0.3, 0.4, 0.6, 0.7, 0.8, 0.9, 1.1, 1.2, 1.3, 1.4, 1.6, 1.7, 1.8, 1.9, 2.1, 2.2, 2.3, 2.4, 2.6, 2.7, 2.8, 2.9], "labels": false, "domain": false, "grid": false, "tickSize": 2, "title": null}}}},
   {"data": {"name": "stats"}, "transform": [{"filter": "datum.p == 'c' && datum.s == '10%-90%'"}],
    "mark": {"type": "line", "color": "black", "strokeWidth": 1.2},
    "encoding": {"x": {"field": "cf", "type": "quantitative", "axis": null}, "y": {"field": "v", "type": "quantitative", "axis": null}, "detail": {"field": "cf"}}},
   {"data": {"name": "stats"}, "transform": [{"filter": "datum.p == 'c' && datum.s == 'mean'"}],
    "mark": {"type": "tick", "orient": "horizontal", "size": 12, "thickness": 2.5},
    "encoding": {"x": {"field": "cf", "type": "quantitative", "axis": null}, "y": {"field": "v", "type": "quantitative", "axis": null},
     "color": {"field": "s", "type": "nominal", "scale": {"domain": ["mean", "10%-90%", "median"], "range": ["#ff2020", "#444444", "#ffff00"]}}}},
   {"data": {"name": "stats"}, "transform": [{"filter": "datum.p == 'c' && datum.s == '10%-90%'"}],
    "mark": {"type": "point", "filled": false, "size": 60, "strokeWidth": 1},
    "encoding": {"x": {"field": "cf", "type": "quantitative", "axis": null}, "y": {"field": "v", "type": "quantitative", "axis": null},
     "color": {"field": "s", "type": "nominal"},
     "shape": {"field": "s", "type": "nominal", "scale": {"domain": ["mean", "10%-90%", "median"], "range": ["M-1.8,0H1.8", "M-0.6,-0.6L0.6,0.6M0.6,-0.6L-0.6,0.6", "M-1,-1L1,1M1,-1L-1,1"]}}}},
   {"data": {"name": "stats"}, "transform": [{"filter": "datum.p == 'c' && datum.s == 'median'"}],
    "mark": {"type": "point", "filled": false, "size": 90, "strokeWidth": 2},
    "encoding": {"x": {"field": "cf", "type": "quantitative", "axis": null}, "y": {"field": "v", "type": "quantitative", "axis": null},
     "color": {"field": "s", "type": "nominal"},
     "shape": {"field": "s", "type": "nominal"}}},
   {"data": {"values": [{}]}, "mark": {"type": "text", "align": "left", "baseline": "top", "fontSize": 12, "color": "#111"},
    "encoding": {"x": {"datum": 1, "axis": null}, "y": {"datum": 2.98, "axis": null}, "text": {"value": "(c)"}}},
   {"data": {"values": [{}]}, "mark": {"type": "text", "align": "left", "baseline": "middle", "fontSize": 11.5, "color": "#111"},
    "encoding": {"x": {"datum": 12, "axis": null}, "y": {"datum": 2.47, "axis": null}, "text": {"value": "δ-2DDA-OB"}}}
  ]},
  {"width": 273, "height": 177, "resolve": {"axis": {"x": "independent", "y": "independent"}}, "layer": [
   {"data": {"name": "viol"}, "transform": [{"filter": "datum.p == 'd'"}, {"calculate": "datum.cf - datum.w", "as": "lo"}, {"calculate": "datum.cf + datum.w", "as": "hi"}],
    "mark": {"type": "area", "orient": "horizontal", "interpolate": "monotone", "fillOpacity": 0.8, "stroke": "#333", "strokeWidth": 1, "strokeOpacity": 0.85},
    "encoding": {
     "y": {"field": "y", "type": "quantitative", "scale": {"domain": [0, 3]}, "axis": {"orient": "left", "values": [0, 0.5, 1, 1.5, 2, 2.5, 3], "format": ".1f", "gridColor": "#cfcfcf", "gridWidth": 1.5, "tickSize": 4, "title": null}},
     "x": {"field": "lo", "type": "quantitative", "scale": {"domain": [0, 100]}, "axis": {"orient": "bottom", "values": [5, 15, 25, 35, 45, 55, 65, 75, 85, 95], "labelOverlap": false, "grid": false, "tickSize": 4, "labelPadding": 1, "domainColor": "#f0a030", "domainWidth": 1.5, "title": "Cloud Fraction (%)", "titlePadding": 1}},
     "x2": {"field": "hi"},
     "fill": {"field": "cf", "type": "nominal", "scale": {"domain": [5, 15, 25, 35, 45, 55, 65, 75, 85, 95], "range": ["#1f77b4", "#ff7f0e", "#2ca02c", "#d62728", "#9467bd", "#8c564b", "#e377c2", "#7f7f7f", "#bcbd22", "#17becf"]}, "legend": null}
    }},
   {"data": {"name": "stats"}, "transform": [{"filter": "datum.p == 'd'"}],
    "mark": {"type": "point", "opacity": 0},
    "encoding": {
     "x": {"field": "cf", "type": "quantitative", "axis": {"orient": "bottom", "values": [1, 3, 7, 9, 11, 13, 17, 19, 21, 23, 27, 29, 31, 33, 37, 39, 41, 43, 47, 49, 51, 53, 57, 59, 61, 63, 67, 69, 71, 73, 77, 79, 81, 83, 87, 89, 91, 93, 97, 99], "labels": false, "domain": false, "grid": false, "tickSize": 2, "title": null}},
     "y": {"field": "v", "type": "quantitative", "axis": {"orient": "left", "values": [0.1, 0.2, 0.3, 0.4, 0.6, 0.7, 0.8, 0.9, 1.1, 1.2, 1.3, 1.4, 1.6, 1.7, 1.8, 1.9, 2.1, 2.2, 2.3, 2.4, 2.6, 2.7, 2.8, 2.9], "labels": false, "domain": false, "grid": false, "tickSize": 2, "title": null}}}},
   {"data": {"name": "stats"}, "transform": [{"filter": "datum.p == 'd' && datum.s == '10%-90%'"}],
    "mark": {"type": "line", "color": "black", "strokeWidth": 1.2},
    "encoding": {"x": {"field": "cf", "type": "quantitative", "axis": null}, "y": {"field": "v", "type": "quantitative", "axis": null}, "detail": {"field": "cf"}}},
   {"data": {"name": "stats"}, "transform": [{"filter": "datum.p == 'd' && datum.s == 'mean'"}],
    "mark": {"type": "tick", "orient": "horizontal", "size": 12, "thickness": 2.5},
    "encoding": {"x": {"field": "cf", "type": "quantitative", "axis": null}, "y": {"field": "v", "type": "quantitative", "axis": null},
     "color": {"field": "s", "type": "nominal", "scale": {"domain": ["mean", "10%-90%", "median"], "range": ["#ff2020", "#444444", "#ffff00"]}}}},
   {"data": {"name": "stats"}, "transform": [{"filter": "datum.p == 'd' && datum.s == '10%-90%'"}],
    "mark": {"type": "point", "filled": false, "size": 60, "strokeWidth": 1},
    "encoding": {"x": {"field": "cf", "type": "quantitative", "axis": null}, "y": {"field": "v", "type": "quantitative", "axis": null},
     "color": {"field": "s", "type": "nominal"},
     "shape": {"field": "s", "type": "nominal", "scale": {"domain": ["mean", "10%-90%", "median"], "range": ["M-1.8,0H1.8", "M-0.6,-0.6L0.6,0.6M0.6,-0.6L-0.6,0.6", "M-1,-1L1,1M1,-1L-1,1"]}}}},
   {"data": {"name": "stats"}, "transform": [{"filter": "datum.p == 'd' && datum.s == 'median'"}],
    "mark": {"type": "point", "filled": false, "size": 90, "strokeWidth": 2},
    "encoding": {"x": {"field": "cf", "type": "quantitative", "axis": null}, "y": {"field": "v", "type": "quantitative", "axis": null},
     "color": {"field": "s", "type": "nominal"},
     "shape": {"field": "s", "type": "nominal"}}},
   {"data": {"values": [{}]}, "mark": {"type": "text", "align": "left", "baseline": "top", "fontSize": 12, "color": "#111"},
    "encoding": {"x": {"datum": 1, "axis": null}, "y": {"datum": 2.98, "axis": null}, "text": {"value": "(d)"}}},
   {"data": {"values": [{}]}, "mark": {"type": "text", "align": "left", "baseline": "middle", "fontSize": 11.5, "color": "#111"},
    "encoding": {"x": {"datum": 12, "axis": null}, "y": {"datum": 2.47, "axis": null}, "text": {"value": "δ-2VIM&HSF-OB"}}}
  ]}
 ],
 "resolve": {"scale": {"color": "independent", "shape": "independent"}, "legend": {"color": "independent", "shape": "independent"}}
}
],
"spacing": 15,
"resolve": {"scale": {"color": "independent", "shape": "independent"}, "legend": {"color": "independent", "shape": "independent"}}
}
